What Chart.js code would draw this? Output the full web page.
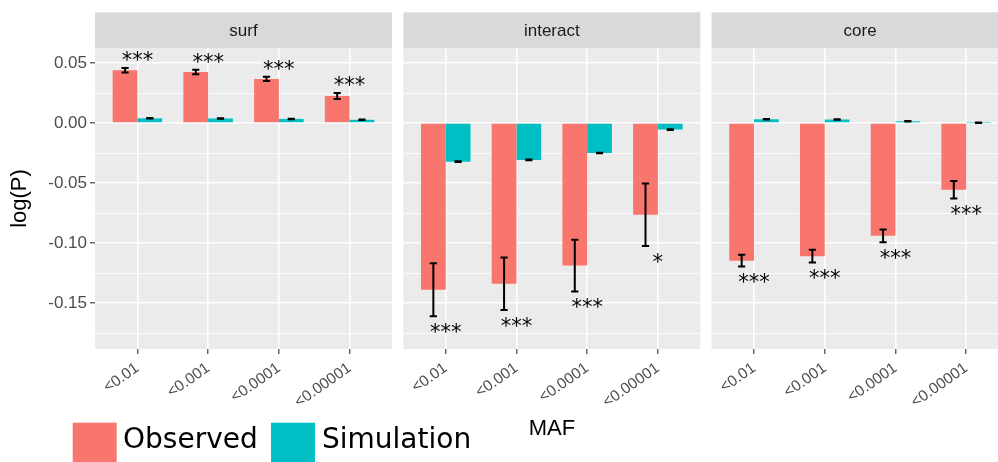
<!DOCTYPE html>
<html>
<head>
<meta charset="utf-8">
<script src="https://cdn.jsdelivr.net/npm/chart.js@4.4.1/dist/chart.umd.min.js"></script>
<style>
  html, body { margin: 0; padding: 0; background: #fff; overflow: hidden; }
  #wrap { position: relative; width: 998px; height: 462px; overflow: hidden; }
  #wrap canvas { position: absolute; left: 0; top: 0; }
</style>
</head>
<body>
<div id="wrap">
  <canvas id="c0" width="1020" height="462"></canvas>
  <canvas id="c1" width="1020" height="462"></canvas>
  <canvas id="c2" width="1020" height="462"></canvas>
</div>
<script>
// data
const facets = ["surf", "interact", "core"];
const mafLabels = ["<0.01", "<0.001", "<0.0001", "<0.00001"];

const surfObs = [0.0440, 0.0425, 0.0367, 0.0225];
const surfObsSe = [0.0019, 0.0019, 0.0018, 0.0025];
const surfSim = [0.0039, 0.0038, 0.0034, 0.0027];
const surfSimSe = [0.0002, 0.0002, 0.0002, 0.0002];
const surfStars = ["***", "***", "***", "***"];

const interactObs = [-0.139, -0.134, -0.1188, -0.0764];
const interactObsSe = [0.0221, 0.0219, 0.0215, 0.0261];
const interactSim = [-0.0322, -0.0308, -0.0250, -0.0055];
const interactSimSe = [0.0003, 0.0003, 0.0003, 0.0003];
const interactStars = ["***", "***", "***", "*"];

const coreObs = [-0.1147, -0.1110, -0.0940, -0.0556];
const coreObsSe = [0.0049, 0.0053, 0.0053, 0.0072];
const coreSim = [0.0031, 0.0030, 0.0015, 0.0003];
const coreSimSe = [0.0002, 0.0002, 0.0002, 0.0002];
const coreStars = ["***", "***", "***", "***"];

const yMajor = [0.05, 0, -0.05, -0.10, -0.15];
const yMinor = [0.025, -0.025, -0.075, -0.125, -0.175];
const yMin = -0.1883, yMax = 0.0625;

const seriesNames = ["Observed", "Simulation"];
const seriesColors = ["#F8766D", "#00BFC4"];

const facetData = [
  { obs: surfObs, obsSe: surfObsSe, sim: surfSim, simSe: surfSimSe, stars: surfStars },
  { obs: interactObs, obsSe: interactObsSe, sim: interactSim, simSe: interactSimSe, stars: interactStars },
  { obs: coreObs, obsSe: coreObsSe, sim: coreSim, simSe: coreSimSe, stars: coreStars }
];

// layout
const W = 1020;
const panelLeft = [95, 403.3, 711.6];
const panelWidth = 297;
const stripTop = 12.3;

Chart.defaults.font.family = "'Liberation Sans', Arial, sans-serif";

const isMajor = v => yMajor.some(m => Math.abs(m - v) < 1e-9);

// grey panel + strip header
const stripPlugin = {
  id: "strip",
  beforeDraw(chart, args, opts) {
    const { ctx, chartArea: a } = chart;
    ctx.save();
    ctx.fillStyle = "#EBEBEB";
    ctx.fillRect(a.left, a.top, a.width, a.height);
    ctx.fillStyle = "#D9D9D9";
    ctx.fillRect(a.left, stripTop, a.width, a.top - stripTop);
    ctx.fillStyle = "#1A1A1A";
    ctx.font = "17px 'Liberation Sans', Arial, sans-serif";
    ctx.textAlign = "center";
    ctx.textBaseline = "middle";
    ctx.fillText(opts.text, a.left + a.width / 2, (stripTop + a.top) / 2 + 1);
    ctx.restore();
  }
};

// error bars + significance stars
const errPlugin = {
  id: "errs",
  afterDatasetsDraw(chart, args, opts) {
    const { ctx } = chart;
    const ys = chart.scales.y, xs = chart.scales.x;
    ctx.save();
    ctx.strokeStyle = "#000";
    ctx.lineWidth = 2;
    chart.data.datasets.forEach((ds, d) => {
      chart.getDatasetMeta(d).data.forEach((bar, k) => {
        const v = ds.data[k].y, e = ds.se[k];
        const y1 = ys.getPixelForValue(v + e), y2 = ys.getPixelForValue(v - e);
        ctx.beginPath();
        ctx.moveTo(bar.x, y1); ctx.lineTo(bar.x, y2);
        ctx.moveTo(bar.x - 3.6, y1); ctx.lineTo(bar.x + 3.6, y1);
        ctx.moveTo(bar.x - 3.6, y2); ctx.lineTo(bar.x + 3.6, y2);
        ctx.stroke();
      });
    });
    const obs = chart.data.datasets[0];
    ctx.fillStyle = "#000";
    ctx.font = "21px 'DejaVu Sans', sans-serif";
    ctx.textAlign = "center";
    ctx.textBaseline = "alphabetic";
    opts.marks.forEach((m, k) => {
      const v = obs.data[k].y, e = obs.se[k];
      const x = xs.getPixelForValue(k);
      const y = v >= 0 ? ys.getPixelForValue(v + e) - 1 : ys.getPixelForValue(v - e) + 22.5;
      ctx.fillText(m, x, y);
    });
    ctx.restore();
  }
};

// legend + x title under the panels
const legendPlugin = {
  id: "bottomLegend",
  afterDraw(chart) {
    const { ctx } = chart;
    ctx.save();
    const boxX = [72.7, 271];
    const textX = [123, 322];
    seriesNames.forEach((name, i) => {
      ctx.fillStyle = seriesColors[i];
      ctx.fillRect(boxX[i], 422.7, 44, 44);
      ctx.fillStyle = "#000";
      ctx.font = "28px 'DejaVu Sans', sans-serif";
      ctx.textAlign = "left";
      ctx.textBaseline = "alphabetic";
      ctx.fillText(name, textX[i], 448);
    });
    ctx.font = "22px 'Liberation Sans', Arial, sans-serif";
    ctx.textAlign = "center";
    ctx.textBaseline = "middle";
    ctx.fillText("MAF", 552, 429);
    ctx.restore();
  }
};

function makeChart(i) {
  const f = facetData[i];
  const first = i === 0;
  const plugins = [stripPlugin, errPlugin];
  if (first) plugins.push(legendPlugin);
  new Chart(document.getElementById("c" + i), {
    type: "bar",
    data: {
      datasets: [
        { label: seriesNames[0], data: f.obs.map((v, k) => ({ x: k, y: v })), se: f.obsSe, backgroundColor: seriesColors[0] },
        { label: seriesNames[1], data: f.sim.map((v, k) => ({ x: k, y: v })), se: f.simSe, backgroundColor: seriesColors[1] }
      ]
    },
    options: {
      responsive: false,
      animation: false,
      events: [],
      categoryPercentage: 0.7,
      barPercentage: 1,
      layout: { padding: { left: first ? 0 : panelLeft[i], right: W - panelLeft[i] - panelWidth, top: 48, bottom: 0 } },
      plugins: {
        legend: { display: false },
        tooltip: { enabled: false },
        strip: { text: facets[i] },
        errs: { marks: f.stars }
      },
      scales: {
        x: {
          type: "linear", min: -0.6, max: 3.6, offset: false,
          afterBuildTicks: s => { s.ticks = mafLabels.map((_, k) => ({ value: k })); },
          afterFit: s => { s.height = 113; },
          grid: { offset: false, color: "#fff", lineWidth: 1.6, tickColor: "#333", tickLength: 5, tickWidth: 1.1 },
          border: { display: false },
          ticks: {
            autoSkip: false, maxRotation: 35, minRotation: 35, padding: 5,
            color: "#4D4D4D", font: { size: 15.5 },
            callback: v => mafLabels[v]
          }
        },
        y: {
          min: yMin, max: yMax,
          afterBuildTicks: s => { s.ticks = yMajor.concat(yMinor).sort((a, b) => b - a).map(v => ({ value: v })); },
          afterFit: s => { s.width = first ? 95 : 0; },
          grid: {
            color: "#fff",
            lineWidth: c => (c.tick && isMajor(c.tick.value) ? 1.6 : 0.8),
            tickColor: c => (c.tick && isMajor(c.tick.value) ? "#333" : "rgba(0,0,0,0)"),
            tickLength: 5, tickWidth: 1.1, drawTicks: first
          },
          border: { display: false },
          title: { display: first, text: "log(P)", color: "#000", font: { size: 22 }, padding: { top: 7, bottom: 0 } },
          ticks: {
            display: first, autoSkip: false, padding: 3,
            color: "#4D4D4D", font: { size: 17 },
            callback: v => (isMajor(v) ? v.toFixed(2) : "")
          }
        }
      }
    },
    plugins: plugins
  });
}

facets.forEach((_, i) => makeChart(i));
</script>
</body>
</html>
